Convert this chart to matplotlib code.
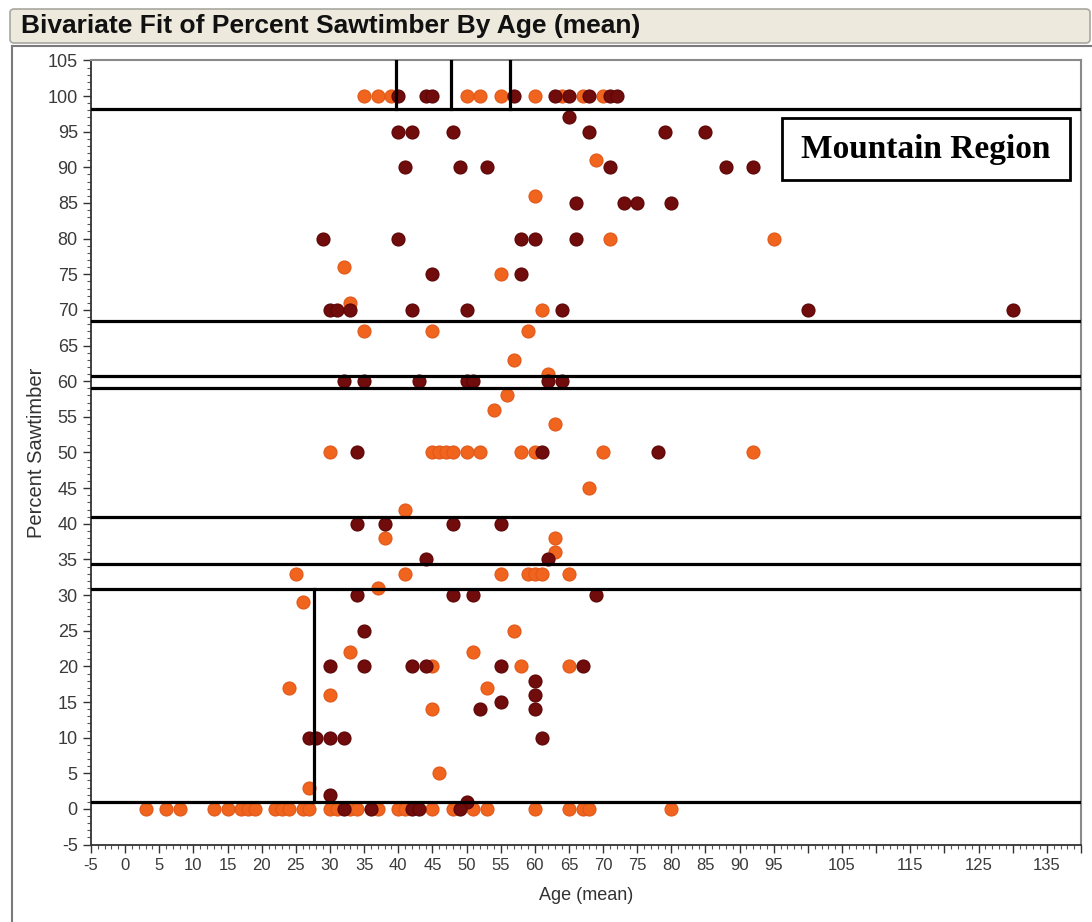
import matplotlib
matplotlib.use('Agg')
import matplotlib.pyplot as plt
from matplotlib import font_manager
from matplotlib.patches import Rectangle, FancyBboxPatch
from matplotlib.lines import Line2D
from matplotlib.ticker import MultipleLocator, FuncFormatter

# dark (maroon) points
dark_age = [40, 44, 45, 57, 63, 65, 68, 71, 72,
            65,
            40, 42, 48, 68, 79, 85,
            41, 49, 53, 71, 88, 92,
            66, 73, 75, 80,
            29, 40, 58, 60, 66,
            45, 58,
            30, 31, 33, 42, 50, 64, 100, 130,
            32, 35, 43, 50, 51, 62, 64,
            34, 61, 78,
            34, 38, 48, 55,
            44, 62,
            34, 48, 51, 69,
            35,
            30, 35, 42, 44, 55, 67,
            60, 60, 55, 52, 60,
            27, 28, 30, 32, 61,
            30, 50,
            32, 36, 42, 43, 49]
dark_pct = [100, 100, 100, 100, 100, 100, 100, 100, 100,
            97,
            95, 95, 95, 95, 95, 95,
            90, 90, 90, 90, 90, 90,
            85, 85, 85, 85,
            80, 80, 80, 80, 80,
            75, 75,
            70, 70, 70, 70, 70, 70, 70, 70,
            60, 60, 60, 60, 60, 60, 60,
            50, 50, 50,
            40, 40, 40, 40,
            35, 35,
            30, 30, 30, 30,
            25,
            20, 20, 20, 20, 20, 20,
            18, 16, 15, 14, 14,
            10, 10, 10, 10, 10,
            2, 1,
            0, 0, 0, 0, 0]

# orange points
orange_age = [35, 37, 39, 50, 52, 55, 60, 64, 67, 70,
              69, 60, 71, 95, 32, 55, 33, 61,
              35, 45, 59, 57, 62, 56, 54, 63,
              30, 45, 46, 47, 48, 50, 52, 58, 60, 70, 92,
              68, 41, 38, 63, 63,
              25, 41, 55, 59, 60, 61, 65,
              37, 26, 57, 33, 51, 45, 58, 65,
              24, 53, 30, 45, 46, 27,
              3, 6, 8, 13, 15, 17, 18, 19, 22, 23, 24, 26, 27, 30, 31,
              33, 34, 37, 40, 41, 45, 48, 51, 53, 60, 65, 67, 68, 80]
orange_pct = [100, 100, 100, 100, 100, 100, 100, 100, 100, 100,
              91, 86, 80, 80, 76, 75, 71, 70,
              67, 67, 67, 63, 61, 58, 56, 54,
              50, 50, 50, 50, 50, 50, 50, 50, 50, 50, 50,
              45, 42, 38, 38, 36,
              33, 33, 33, 33, 33, 33, 33,
              31, 29, 25, 22, 22, 20, 20, 20,
              17, 17, 16, 14, 5, 3,
              0, 0, 0, 0, 0, 0, 0, 0, 0, 0, 0, 0, 0, 0, 0,
              0, 0, 0, 0, 0, 0, 0, 0, 0, 0, 0, 0, 0, 0]

# partition split lines
split_y = [98.2, 68.5, 60.7, 59.1, 41.0, 34.3, 30.9, 0.95]
top_split_x = [39.7, 47.7, 56.3]
low_split_x = 27.6

x_labels = [-5, 0, 5, 10, 15, 20, 25, 30, 35, 40, 45, 50, 55, 60, 65, 70,
            75, 80, 85, 90, 95, 105, 115, 125, 135]

names = {f.name for f in font_manager.fontManager.ttflist}
narrow = 'Liberation Sans Narrow' if 'Liberation Sans Narrow' in names else 'Liberation Sans'

W, H = 1092, 922
fig = plt.figure(figsize=(W / 100, H / 100), dpi=100)
fig.patch.set_facecolor('white')

# title bar
fig.add_artist(FancyBboxPatch((10 / W, 1 - 43 / H), 1080 / W, 34 / H,
                              boxstyle='round,pad=0,rounding_size=0.004',
                              transform=fig.transFigure, facecolor='#ede9dc',
                              edgecolor='#a8a8a0', lw=1.2))
fig.text(21 / W, 1 - 26.5 / H, 'Bivariate Fit of Percent Sawtimber By Age (mean)',
         fontsize=19, fontweight='bold', family='Liberation Sans',
         ha='left', va='center', color='#111111')

# panel outline
fig.add_artist(Line2D([12 / W, 12 / W], [0, 1 - 46 / H], transform=fig.transFigure,
                      color='#7a7a7a', lw=1.5))
fig.add_artist(Line2D([12 / W, 1], [1 - 46 / H, 1 - 46 / H], transform=fig.transFigure,
                      color='#7a7a7a', lw=1.5))

ax = fig.add_axes([91 / W, 1 - 844.6 / H, 990 / W, 784.2 / H])
ax.set_xlim(-5, 140)
ax.set_ylim(-5, 105)

ax.scatter(orange_age, orange_pct, s=88, color='#f0641e', edgecolors='#e0581a',
           linewidths=0.8, zorder=3)
ax.scatter(dark_age, dark_pct, s=88, color='#700c0c', edgecolors='#5c0505',
           linewidths=0.8, zorder=4)

for yv in split_y:
    ax.axhline(yv, color='black', lw=2.3, zorder=5)
for xv in top_split_x:
    ax.plot([xv, xv], [split_y[0], 105], color='black', lw=2.3, zorder=5)
ax.plot([low_split_x, low_split_x], [split_y[-1], split_y[-2]], color='black', lw=2.3, zorder=5)

# region label box
ax.add_patch(Rectangle((0.698, 0.8475), 0.291, 0.079, transform=ax.transAxes,
                       facecolor='white', edgecolor='black', lw=2, zorder=6))
ax.text(0.8435, 0.886, 'Mountain Region', transform=ax.transAxes,
        fontsize=24, fontweight='bold', family='Liberation Serif',
        ha='center', va='center', zorder=7)

ax.xaxis.set_major_locator(MultipleLocator(5))
ax.xaxis.set_minor_locator(MultipleLocator(1))
ax.xaxis.set_major_formatter(FuncFormatter(
    lambda v, p: f'{int(round(v))}' if int(round(v)) in x_labels else ''))
ax.yaxis.set_major_locator(MultipleLocator(5))
ax.yaxis.set_minor_locator(MultipleLocator(1))
ax.yaxis.set_major_formatter(FuncFormatter(lambda v, p: f'{int(round(v))}'))

ax.tick_params(axis='both', which='major', direction='out', length=6, width=1,
               color='#333333', labelcolor='#3a3a3a', labelsize=12)
ax.tick_params(axis='y', which='major', labelsize=13)
ax.tick_params(axis='both', which='minor', direction='out', length=3, width=0.8,
               color='#555555')
for lab in ax.get_xticklabels() + ax.get_yticklabels():
    lab.set_family(narrow)

for side in ['top', 'right']:
    ax.spines[side].set_color('#8a8a8a')
    ax.spines[side].set_linewidth(1.5)
for side in ['left', 'bottom']:
    ax.spines[side].set_color('#333333')
    ax.spines[side].set_linewidth(1.3)

ax.set_xlabel('Age (mean)', fontsize=13, family=narrow, color='#333333', labelpad=10)
ax.set_ylabel('Percent Sawtimber', fontsize=14.5, family=narrow, color='#333333', labelpad=1)

fig.savefig('out.png', dpi=100)
